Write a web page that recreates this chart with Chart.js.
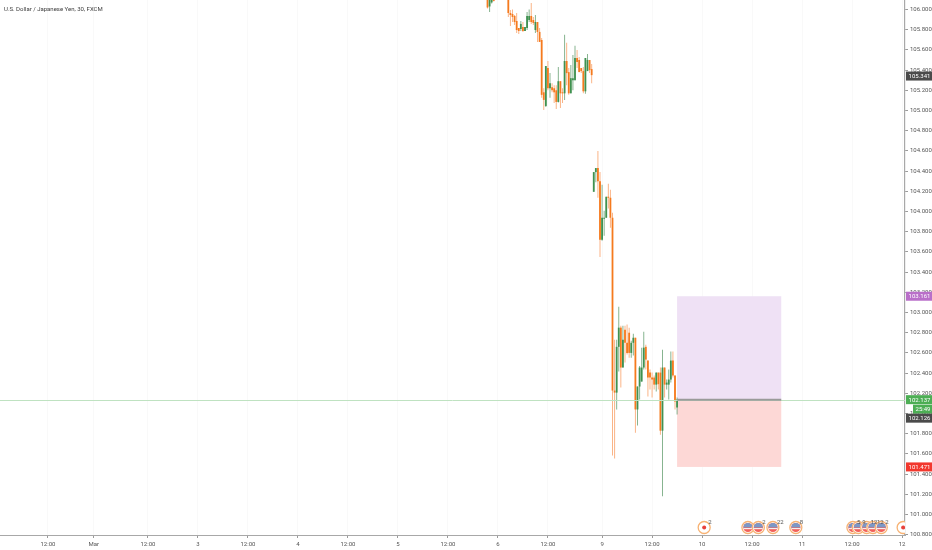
<!DOCTYPE html>
<html><head><meta charset="utf-8">
<style>html,body{margin:0;padding:0;background:#fff}canvas{display:block}</style>
<script src="https://cdn.jsdelivr.net/npm/chart.js@4"></script>
</head><body><canvas id="c" width="932" height="550"></canvas>
<script>
const titleText = "U.S. Dollar / Japanese Yen, 30, FXCM";
const barIdx = [235,236,237,238,245,246,247,248,249,250,251,252,253,254,255,256,257,258,259,260,261,262,263,264,265,266,267,268,269,270,271,272,273,274,275,276,277,278,279,280,281,282,283,284,285,
286,287,288,289,290,291,292,293,294,295,296,297,298,299,300,301,302,303,304,305,306,307,308,309,310,311,312,313,314,315,316,317,318,319,320,321,322,323,324,325,326];
const opens = [106.15,106.03,106.07,106.15,106.15,105.965,105.955,105.936,105.886,105.817,105.807,105.827,105.787,105.817,105.896,105.936,105.896,105.797,105.876,105.778,105.698,105.18,105.045,105.42,105.22,105.23,105.22,105.20,105.085,105.29,105.18,105.17,105.49,105.38,105.17,105.30,105.30,105.52,105.50,105.42,105.39,105.19,105.39,105.50,105.41,
104.195,104.39,104.43,104.30,103.72,103.928,103.938,104.146,104.136,103.938,102.227,102.207,102.66,102.85,102.455,102.83,102.70,102.80,102.60,102.70,102.75,102.04,102.267,102.316,102.455,102.66,102.524,102.405,102.356,102.356,102.286,102.405,102.405,101.83,102.455,102.286,102.286,102.336,102.524,102.375,102.059];
const highs = [106.2,106.17,106.2,106.2,106.2,105.995,106.0,105.945,105.965,105.817,105.886,105.876,105.827,105.975,106.0,106.064,105.926,105.945,105.876,105.817,105.718,105.22,105.44,105.49,105.37,105.27,105.25,105.25,105.43,105.29,105.22,105.75,105.67,105.42,105.45,105.55,105.64,105.60,105.53,105.42,105.43,105.52,105.56,105.50,105.46,
104.39,104.43,104.60,104.39,104.265,104.007,104.146,104.274,104.215,103.987,102.73,102.73,103.058,102.87,102.87,102.87,102.88,102.85,102.72,102.79,102.75,102.267,102.47,102.652,102.81,102.68,102.524,102.435,102.405,102.375,102.405,102.405,102.455,102.63,102.455,102.336,102.435,102.613,102.613,102.375,102.158];
const lows = [106.01,105.975,106.06,106.08,105.926,105.837,105.876,105.847,105.768,105.758,105.787,105.778,105.787,105.797,105.876,105.857,105.847,105.768,105.679,105.679,105.125,105.006,105.035,105.20,105.125,105.18,105.075,105.016,105.08,105.025,105.075,105.105,105.25,105.155,105.17,105.20,105.30,105.42,105.38,105.37,105.17,105.165,105.39,105.37,105.27,
104.195,104.29,104.136,103.55,103.71,103.76,103.938,104.03,103.839,101.584,101.555,102.04,102.415,102.257,102.455,102.504,102.583,102.553,102.553,102.573,101.81,101.88,102.138,102.316,102.435,102.435,102.168,102.237,102.158,102.237,102.217,102.237,101.79,101.18,102.158,102.237,102.138,102.306,102.356,102.04,101.99];
const closes = [106.02,106.12,106.14,106.085,105.965,105.945,105.926,105.876,105.797,105.787,105.857,105.787,105.827,105.936,105.936,105.876,105.867,105.876,105.778,105.679,105.155,105.105,105.44,105.22,105.27,105.20,105.18,105.085,105.29,105.17,105.17,105.49,105.37,105.17,105.32,105.32,105.52,105.48,105.38,105.39,105.19,105.52,105.50,105.40,105.35,
104.39,104.43,104.30,103.72,103.938,103.938,104.146,104.136,103.938,102.227,102.207,102.66,102.85,102.455,102.73,102.70,102.60,102.60,102.70,102.75,102.04,102.267,102.455,102.455,102.652,102.534,102.356,102.356,102.336,102.286,102.405,102.29,101.83,102.455,102.286,102.306,102.336,102.524,102.375,102.118,102.138];

const xMin = 1, xMax = 435.4, yMin = 100.797, yMax = 106.094;
const xTickIdx = [24,46,72,96,120,144,168,192,216,240,264,290,314,338,362,386,410,434];
const xTickLabels = ["12:00","Mar","12:00","3","12:00","4","12:00","5","12:00","6","12:00","9","12:00","10","12:00","11","12:00","12"];
const yTicks = [100.8,101,101.2,101.4,101.6,101.8,102,102.2,102.4,102.6,102.8,103,103.2,103.4,103.6,103.8,104,104.2,104.4,104.6,104.8,105,105.2,105.4,105.6,105.8,106];

const positionStart = 326, positionEnd = 376;
const entryPrice = 102.137, targetPrice = 103.161, stopPrice = 101.471;
const lastBarPrice = 105.341, closePrice = 102.126;
const countdown = "25:49";

const eventIdx = [339,360,365,372,383,410.4,413,417,420,424,434.5];
const eventKind = ["JP","US","US","US","US","US","US","US","US","US","JP"];
const eventCount = ["2","","2","22","8","5","9","12","12","2",""];

const ORANGE = "#f57a1e", GREEN = "#3f9150";
const ORANGE_W = "rgba(247,140,70,.65)", GREEN_W = "rgba(70,140,85,.65)";
const up = i => closes[i] >= opens[i];

const overlay = {
  id: "overlay",
  beforeDatasetsDraw(ch) {
    const {ctx, scales: {x, y}} = ch;
    const l = x.getPixelForValue(positionStart), r = x.getPixelForValue(positionEnd);
    const e = y.getPixelForValue(entryPrice), t = y.getPixelForValue(targetPrice), s = y.getPixelForValue(stopPrice);
    ctx.fillStyle = "#efe1f5"; ctx.fillRect(l, t, r - l, e - t);
    ctx.fillStyle = "#fdd8d6"; ctx.fillRect(l, e, r - l, s - e);
  },
  afterDatasetsDraw(ch) {
    const {ctx, chartArea: a, scales: {x, y}} = ch;
    const l = x.getPixelForValue(positionStart), r = x.getPixelForValue(positionEnd), e = y.getPixelForValue(entryPrice);
    ctx.save();
    ctx.strokeStyle = "#bfe2c1"; ctx.lineWidth = 1;
    ctx.beginPath(); ctx.moveTo(a.left, Math.round(e) + .5); ctx.lineTo(a.right, Math.round(e) + .5); ctx.stroke();
    ctx.strokeStyle = "#9a9a9a"; ctx.lineWidth = 2;
    ctx.beginPath(); ctx.moveTo(l, e); ctx.lineTo(r, e); ctx.stroke();
    // economic events along the bottom
    ctx.beginPath(); ctx.rect(a.left, a.top, a.right - a.left, a.bottom - a.top); ctx.clip();
    const cy = 527.5;
    eventIdx.forEach((v, i) => {
      const cx = x.getPixelForValue(v);
      ctx.fillStyle = "#fff"; ctx.beginPath(); ctx.arc(cx, cy, 6.6, 0, 7); ctx.fill();
      ctx.strokeStyle = "#f7b273"; ctx.lineWidth = 1.3; ctx.beginPath(); ctx.arc(cx, cy, 6, 0, 7); ctx.stroke();
      if (eventKind[i] === "JP") {
        ctx.fillStyle = "#e8403a"; ctx.beginPath(); ctx.arc(cx, cy, 2, 0, 7); ctx.fill();
      } else {
        ctx.fillStyle = "#f2605a"; ctx.beginPath(); ctx.arc(cx, cy, 4.6, 0, 7); ctx.fill();
        ctx.fillStyle = "#7c98c6"; ctx.beginPath(); ctx.arc(cx, cy, 4.6, Math.PI, 0); ctx.fill();
        ctx.fillStyle = "#f4eeee"; ctx.fillRect(cx - 4.3, cy + .5, 8.6, 1.2);
      }
    });
    ctx.fillStyle = "#555"; ctx.font = "6px Roboto"; ctx.textAlign = "left"; ctx.textBaseline = "middle";
    eventIdx.forEach((v, i) => { if (eventCount[i]) ctx.fillText(eventCount[i], x.getPixelForValue(v) + 4, cy - 5); });
    ctx.restore();
  },
  afterDraw(ch) {
    const {ctx, width, scales: {y}} = ch;
    const badge = (txt, cy, col, left) => {
      ctx.fillStyle = col; ctx.fillRect(left, cy - 4.5, width - left, 9);
      ctx.fillStyle = "#fff"; ctx.font = "6px Roboto"; ctx.textAlign = "center"; ctx.textBaseline = "middle";
      ctx.fillText(txt, (left + width) / 2 + .5, cy + .5);
    };
    ctx.save();
    badge(lastBarPrice.toFixed(3), y.getPixelForValue(lastBarPrice), "#4a4a4a", 906);
    badge(targetPrice.toFixed(3), y.getPixelForValue(targetPrice), "#b96fc9", 906);
    badge(entryPrice.toFixed(3), y.getPixelForValue(entryPrice), "#4cae54", 906);
    badge(countdown, y.getPixelForValue(entryPrice) + 9.5, "#4cae54", 913);
    badge(closePrice.toFixed(3), y.getPixelForValue(entryPrice) + 18.5, "#4a4a4a", 906);
    badge(stopPrice.toFixed(3), y.getPixelForValue(stopPrice), "#f2382e", 906);
    ctx.fillStyle = "#3c3c3c"; ctx.font = "6px Roboto"; ctx.textAlign = "left"; ctx.textBaseline = "middle";
    ctx.fillText(titleText, 4, 9);
    ctx.restore();
  }
};

new Chart(document.getElementById("c"), {
  type: "bar",
  plugins: [overlay],
  data: { datasets: [
    { label: "wick", grouped: false, barThickness: 1, inflateAmount: 0, order: 2,
      data: barIdx.map((v, i) => ({x: v, y: [lows[i], highs[i]]})),
      backgroundColor: barIdx.map((v, i) => up(i) ? GREEN_W : ORANGE_W) },
    { label: "body", grouped: false, barThickness: 1.8, inflateAmount: 0, minBarLength: 1, order: 1,
      data: barIdx.map((v, i) => ({x: v, y: [Math.min(opens[i], closes[i]), Math.max(opens[i], closes[i])]})),
      backgroundColor: barIdx.map((v, i) => up(i) ? GREEN : ORANGE) }
  ]},
  options: {
    responsive: false, animation: false, devicePixelRatio: 1,
    layout: { padding: 0 },
    plugins: { legend: {display: false}, tooltip: {enabled: false}, title: {display: false} },
    scales: {
      x: {
        type: "linear", min: xMin, max: xMax, offset: false,
        afterBuildTicks(s) { s.ticks = xTickIdx.map(v => ({value: v})); },
        afterFit(s) { s.height = 15; s.paddingLeft = 0; s.paddingRight = 0; },
        grid: { offset: false, color: "rgba(0,0,0,.022)", tickColor: "#9a9a9a", tickLength: 3, drawTicks: true },
        border: { color: "#a8a8a8", width: 1 },
        ticks: { autoSkip: false, maxRotation: 0, padding: 3, color: "#555", font: {family: "Roboto", size: 6},
          callback: (v, i) => xTickLabels[i] }
      },
      y: {
        position: "right", min: yMin, max: yMax,
        afterBuildTicks(s) { s.ticks = yTicks.map(v => ({value: v})); },
        afterFit(s) { s.width = 27; s.paddingTop = 0; s.paddingBottom = 0; },
        grid: { drawOnChartArea: false, tickColor: "#9a9a9a", tickLength: 3 },
        border: { color: "#a8a8a8", width: 1.2 },
        ticks: { autoSkip: false, padding: 2, color: "#555", font: {family: "Roboto", size: 6},
          callback: v => Number(v).toFixed(3) }
      }
    }
  }
});
</script></body></html>
